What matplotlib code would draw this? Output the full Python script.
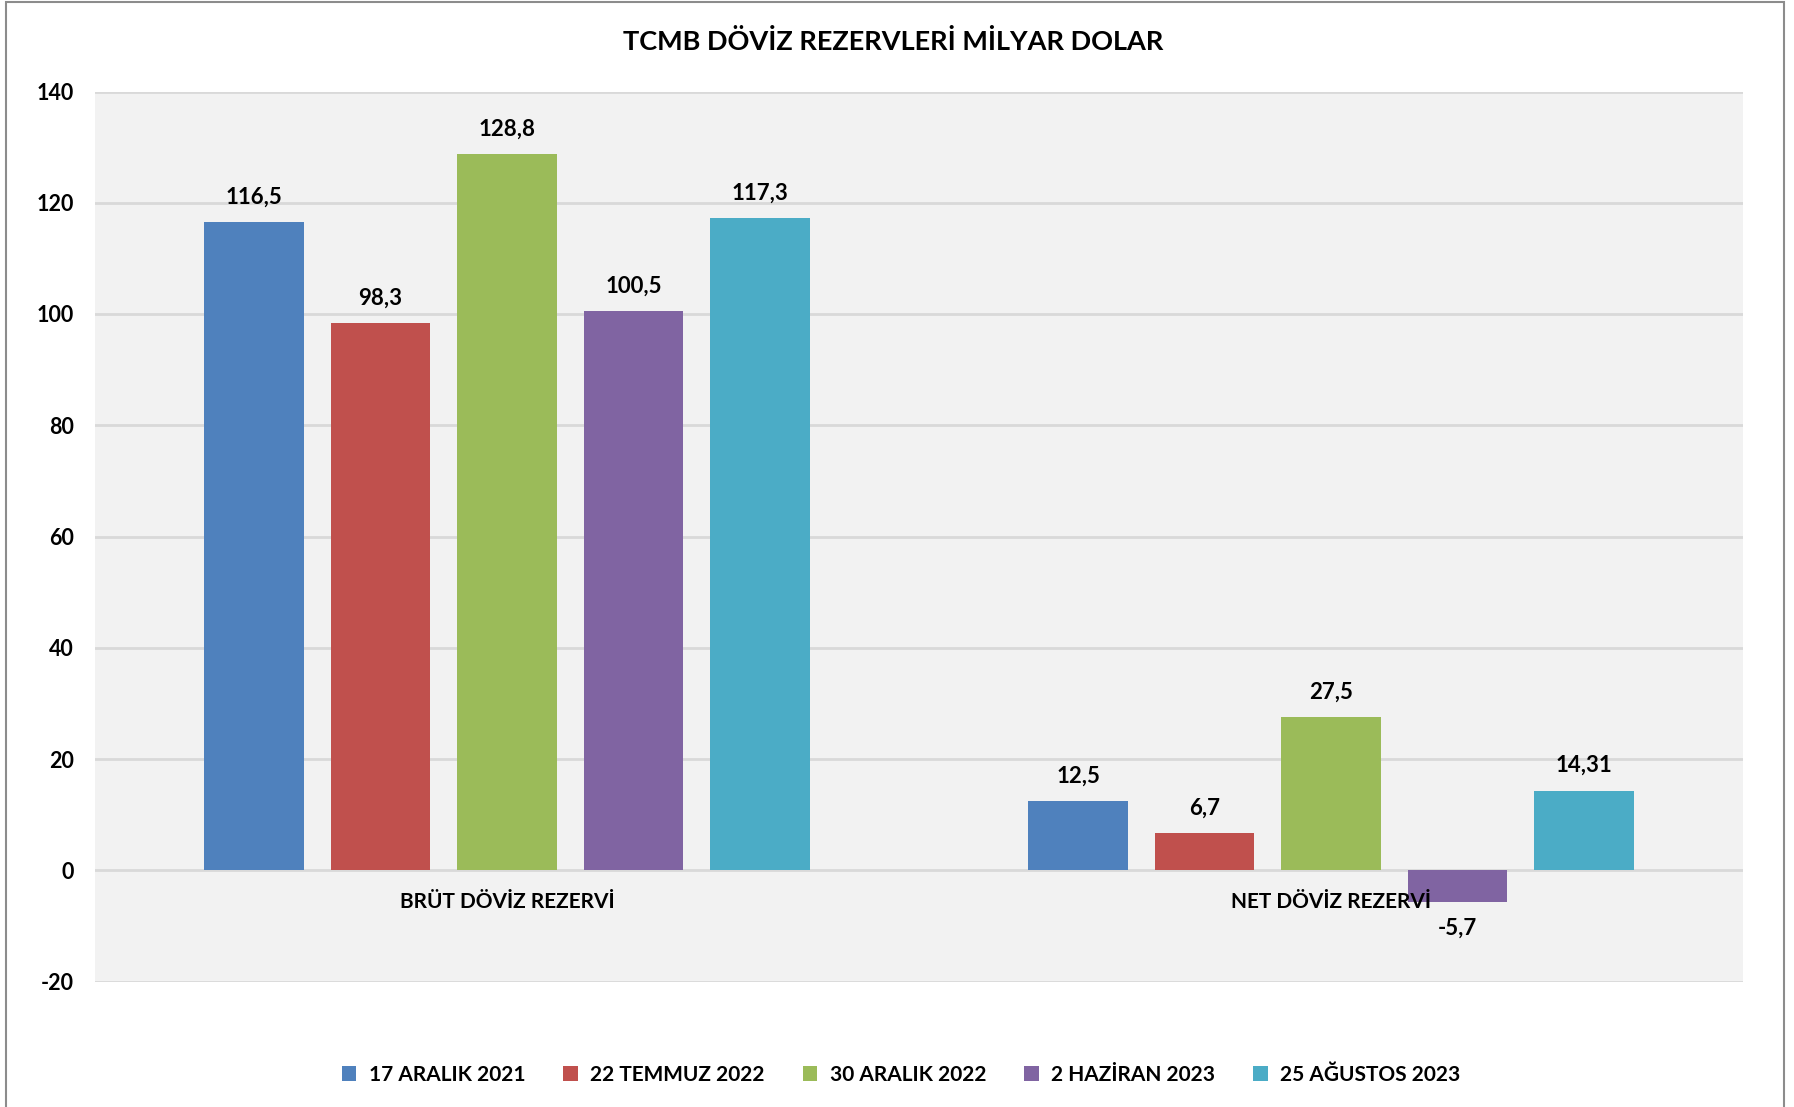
import matplotlib
matplotlib.use("Agg")
import matplotlib.pyplot as plt
from matplotlib.patches import Patch, Rectangle
import numpy as np

plt.rcParams['font.family'] = ['Lato', 'DejaVu Sans']
plt.rcParams['font.weight'] = 'bold'

title = "TCMB DÖVİZ REZERVLERİ MİLYAR DOLAR"
categories = ["BRÜT DÖVİZ REZERVİ", "NET DÖVİZ REZERVİ"]
series_names = ["17 ARALIK 2021", "22 TEMMUZ 2022", "30 ARALIK 2022", "2 HAZİRAN 2023", "25 AĞUSTOS 2023"]
values = [
    [116.5, 12.5],
    [98.3, 6.7],
    [128.8, 27.5],
    [100.5, -5.7],
    [117.3, 14.31],
]
value_labels = [
    ["116,5", "12,5"],
    ["98,3", "6,7"],
    ["128,8", "27,5"],
    ["100,5", "-5,7"],
    ["117,3", "14,31"],
]
colors = ["#4F81BD", "#C0504D", "#9BBB59", "#8064A2", "#4BACC6"]
yticks = [-20, 0, 20, 40, 60, 80, 100, 120, 140]

W, H = 1794, 1107
fig = plt.figure(figsize=(W / 100, H / 100), dpi=100)
fig.patch.set_facecolor("white")

left, right, top, bottom = 95, 1743, 91.5, 981.5
ax = fig.add_axes([left / W, 1 - bottom / H, (right - left) / W, (bottom - top) / H])
ax.set_facecolor("#F2F2F2")
ax.set_xlim(-0.5, 1.5)
ax.set_ylim(-20, 140)
ax.set_yticks(yticks)
ax.set_yticklabels([str(t) for t in yticks], fontsize=15.5, fontweight='bold')
ax.tick_params(axis='y', length=0, pad=15)
ax.set_xticks([])
for s in ax.spines.values():
    s.set_visible(False)
ax.grid(axis='y', color="#D9D9D9", linewidth=2)
ax.set_axisbelow(True)

x = np.arange(len(categories))
bar_w = 0.121
step = 0.1534
for i, (name, vals, labs, c) in enumerate(zip(series_names, values, value_labels, colors)):
    xs = x + (i - 2) * step
    ax.bar(xs, vals, width=bar_w, color=c, label=name, zorder=3)
    for xi, v, lab in zip(xs, vals, labs):
        off = 18 if v >= 0 else -19
        ax.annotate(lab, (xi, v), xytext=(0, off), textcoords='offset points',
                    ha='center', va='center', fontsize=16, fontweight='bold', zorder=5)

for xi, cat in zip(x, categories):
    ax.annotate(cat, (xi, 0), xytext=(0, -23), textcoords='offset points',
                ha='center', va='center', fontsize=15, fontweight='bold', zorder=6)

fig.text(893 / W, 1 - 42 / H, title, ha='center', va='center', fontsize=19.5, fontweight='bold')

handles = [Patch(facecolor=c, edgecolor='none') for c in colors]
fig.legend(handles, series_names, loc='center', bbox_to_anchor=(901 / W, 1 - 1075 / H),
           ncol=5, frameon=False, handlelength=0.7, handleheight=0.7,
           handletextpad=0.6, columnspacing=1.82, prop={'weight': 'bold', 'size': 15})

fig.add_artist(Rectangle((6 / W, -0.05), (1784 - 6) / W, 1.05 - 2.5 / H,
                         transform=fig.transFigure, fill=False, edgecolor="#8C8C8C", linewidth=1.5))

fig.savefig("out.png", dpi=100)
